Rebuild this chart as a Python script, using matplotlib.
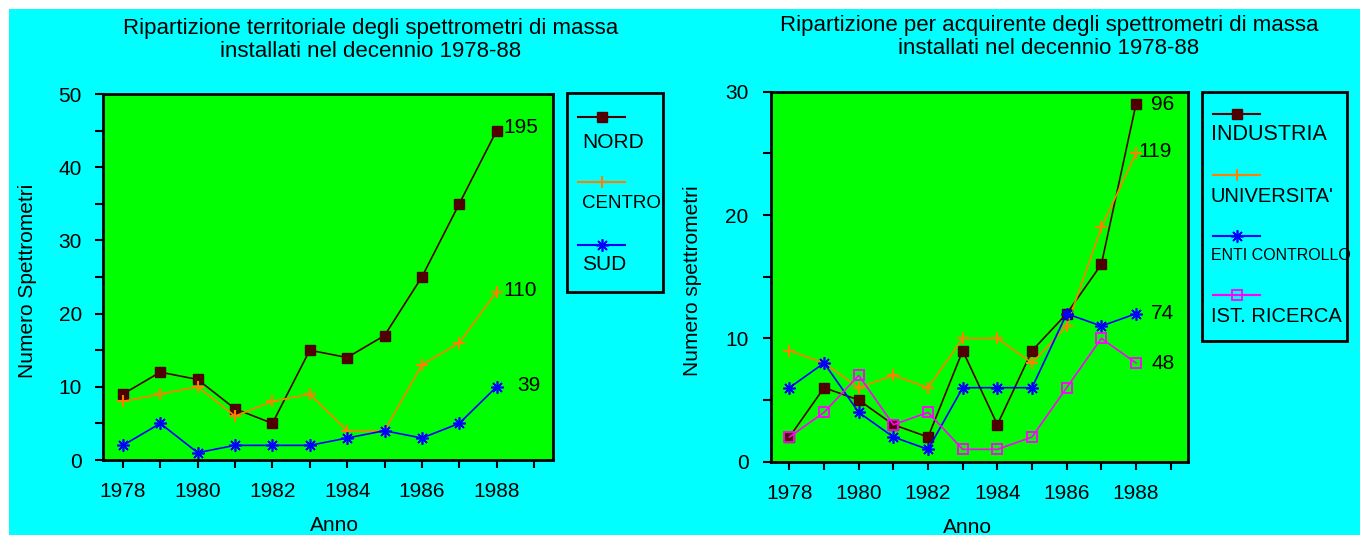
import matplotlib
matplotlib.use("Agg")
import matplotlib.pyplot as plt
from matplotlib.lines import Line2D
from matplotlib.patches import Rectangle

plt.rcParams['font.family'] = ['Liberation Sans', 'DejaVu Sans']

years = [1978, 1979, 1980, 1981, 1982, 1983, 1984, 1985, 1986, 1987, 1988]

# Left chart: territorial distribution
nord = [9, 12, 11, 7, 5, 15, 14, 17, 25, 35, 45]
centro = [8, 9, 10, 6, 8, 9, 4, 4, 13, 16, 23]
sud = [2, 5, 1, 2, 2, 2, 3, 4, 3, 5, 10]

# Right chart: distribution by buyer
industria = [2, 6, 5, 3, 2, 9, 3, 9, 12, 16, 29]
universita = [9, 8, 6, 7, 6, 10, 10, 8, 11, 19, 25]
enti_controllo = [6, 8, 4, 2, 1, 6, 6, 6, 12, 11, 12]
ist_ricerca = [2, 4, 7, 3, 4, 1, 1, 2, 6, 10, 8]

left_labels = ['NORD', 'CENTRO', 'SUD']
right_labels = ['INDUSTRIA', "UNIVERSITA'", 'ENTI CONTROLLO', 'IST. RICERCA']
xtick_major = [1978, 1980, 1982, 1984, 1986, 1988]
xtick_minor = [1979, 1981, 1983, 1985, 1987, 1989]

W, H = 1360, 535
MAROON = '#500000'
ORANGE = '#ff8000'
BLUE = '#0000ff'
MAGENTA = '#ff00ff'
GREEN = '#00ff00'
CYAN = '#00ffff'

styles = {
    'NORD': dict(color=MAROON, marker='s', ms=7, mfc=MAROON, mec=MAROON),
    'CENTRO': dict(color=ORANGE, marker='+', ms=9, mew=1.5),
    'SUD': dict(color=BLUE, marker=(8, 2, 0), ms=9, mew=1.2),
    'INDUSTRIA': dict(color=MAROON, marker='s', ms=7, mfc=MAROON, mec=MAROON),
    "UNIVERSITA'": dict(color=ORANGE, marker='+', ms=9, mew=1.5),
    'ENTI CONTROLLO': dict(color=BLUE, marker=(8, 2, 0), ms=9, mew=1.2),
    'IST. RICERCA': dict(color=MAGENTA, marker='s', ms=7, mfc='none', mec=MAGENTA, mew=1.3),
}

fig = plt.figure(figsize=(W / 100, H / 100), dpi=100, facecolor='white')


def px(x, y):
    return (x / W, 1 - y / H)


fig.patches.append(Rectangle((9 / W, 0), 1 - 9 / W, (H - 9) / H, transform=fig.transFigure,
                             facecolor=CYAN, edgecolor='none', zorder=-10))

FS = 15


def setup_axes(rect, ymax, ylabel, ylabel_x, anno_x, ypad):
    ax = fig.add_axes(rect)
    ax.set_facecolor(GREEN)
    ax.set_xlim(1977.46, 1989.5)
    ax.set_ylim(0, ymax)
    ax.set_xticks(xtick_major)
    ax.set_xticks(xtick_minor, minor=True)
    ax.set_yticks(range(0, ymax + 1, 10))
    ax.set_yticks(range(5, ymax, 10), minor=True)
    ax.tick_params(which='both', direction='out', length=6, width=1.5, color='black',
                   top=False, right=False)
    ax.tick_params(axis='x', which='major', pad=10, labelsize=FS)
    ax.tick_params(axis='y', which='major', pad=ypad, labelsize=FS)
    for s in ax.spines.values():
        s.set_linewidth(2)
        s.set_color('black')
    ax.set_ylabel(ylabel, fontsize=FS)
    ax.yaxis.set_label_coords(ylabel_x, 0.49)
    ax.set_xlabel('Anno', fontsize=FS)
    ax.xaxis.set_label_coords(anno_x, -0.153)
    return ax


# Left axes
axL = setup_axes([102.7 / W, 1 - 460 / H, 450 / W, 366 / H], 50,
                 'Numero Spettrometri', -0.147, 0.516, 9)
left_series = [nord, centro, sud]
left_offsets = [(5, 2), (5, 1), (15, 1)]
for lab, vals, off in zip(left_labels, left_series, left_offsets):
    axL.plot(years, vals, lw=1.2, **styles[lab])
    axL.annotate(str(sum(vals)), xy=(years[-1], vals[-1]), xytext=off,
                 textcoords='offset points', ha='left', va='center', fontsize=FS)

# Right axes
axR = setup_axes([770.7 / W, 1 - 461.7 / H, 417.3 / W, 370 / H], 30,
                 'Numero spettrometri', -0.165, 0.4716, 10)
right_series = [industria, universita, enti_controllo, ist_ricerca]
right_offsets = [(11, 0), (2, 1), (11, 0), (11, 0)]
for lab, vals, off in zip(right_labels, right_series, right_offsets):
    axR.plot(years, vals, lw=1.2, **styles[lab])
    axR.annotate(str(sum(vals)), xy=(years[-1], vals[-1]), xytext=off,
                 textcoords='offset points', ha='left', va='center', fontsize=FS)

# Titles
fig.text(*px(371, 40), 'Ripartizione territoriale degli spettrometri di massa\ninstallati nel decennio 1978-88',
         ha='center', va='center', fontsize=16, linespacing=1.15)
fig.text(*px(1049, 37), 'Ripartizione per acquirente degli spettrometri di massa\ninstallati nel decennio 1978-88',
         ha='center', va='center', fontsize=16, linespacing=1.15)


# Legends (drawn manually: sample line above label)
def legend_box(x0, y0, x1, y1, entries, line_x0, line_x1, text_x):
    fig.patches.append(Rectangle(px(x0, y1), (x1 - x0) / W, (y1 - y0) / H,
                                 transform=fig.transFigure, facecolor='none',
                                 edgecolor='black', linewidth=2, zorder=5))
    for lab, ly, ty, fs in entries:
        st = dict(styles[lab])
        a, b = px(line_x0, ly)
        c, d = px(line_x1, ly)
        fig.add_artist(Line2D([a, c], [b, d], transform=fig.transFigure, lw=1.5,
                              color=st['color']))
        mx, my = px((line_x0 + line_x1) / 2, ly)
        st_m = {k: v for k, v in st.items() if k != 'color'}
        fig.add_artist(Line2D([mx], [my], transform=fig.transFigure, lw=0,
                              color=st['color'], **st_m))
        fig.text(*px(text_x, ty), lab, ha='left', va='center', fontsize=fs)


legend_box(567, 93, 663, 292,
           [('NORD', 117, 143, 15), ('CENTRO', 182, 203, 13.5), ('SUD', 245, 265, 15)],
           578, 625, 582)
legend_box(1202, 92, 1347, 341,
           [('INDUSTRIA', 114, 135, 15.5), ("UNIVERSITA'", 175, 197, 14.5),
            ('ENTI CONTROLLO', 236, 256, 11.5), ('IST. RICERCA', 295, 317, 14.5)],
           1213, 1260, 1211)

fig.savefig('out.png', dpi=100, facecolor=fig.get_facecolor())
